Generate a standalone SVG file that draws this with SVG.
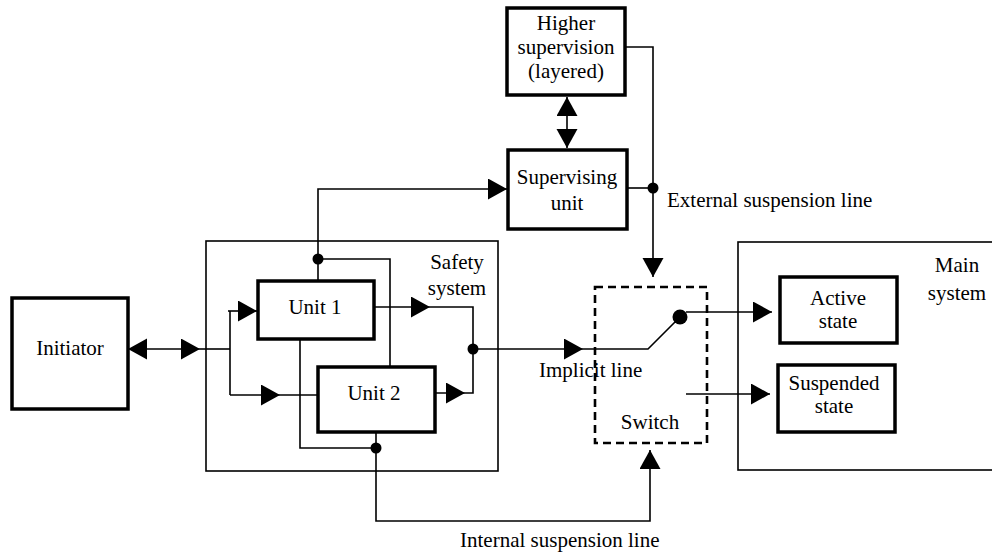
<svg xmlns="http://www.w3.org/2000/svg" width="992" height="555" viewBox="0 0 992 555">
<style>
.box{fill:#fff;stroke:#000;stroke-width:3.5}
.frame{fill:none;stroke:#000;stroke-width:1.6}
.dash{fill:none;stroke:#000;stroke-width:2.6;stroke-dasharray:8 5}
.ln{fill:none;stroke:#000;stroke-width:1.6}
.a{marker-end:url(#ah)}
.aa{marker-start:url(#ah);marker-end:url(#ah)}
.dot{fill:#000}
text{font-family:"Liberation Serif","Times New Roman",serif;font-size:21px;fill:#000}
.c{text-anchor:middle}
</style>
<defs>
<marker id="ah" markerUnits="userSpaceOnUse" markerWidth="20" markerHeight="22" refX="19" refY="10.5" orient="auto-start-reverse" viewBox="0 0 20 22">
<path d="M0,0 L19,10.5 L0,21 z" fill="#000"/>
</marker>
</defs>
<rect width="992" height="555" fill="#fff"/>

<g id="safety-system">
<rect class="frame" x="206" y="241" width="292" height="230"/>
<text class="c" x="457" y="269">Safety</text>
<text class="c" x="457" y="295">system</text>
</g>
<g id="main-system">
<rect class="frame" x="738" y="242" width="262" height="228"/>
<text class="c" x="957" y="272">Main</text>
<text class="c" x="957" y="300">system</text>
</g>

<g id="connectors">
<path class="ln aa" d="M128,349 H200"/>
<path class="ln" d="M200,349 H230"/>
<path class="ln" d="M230,311 V395"/>
<path class="ln a" d="M228,311 H257"/>
<path class="ln a" d="M230,395 H280"/>
<path class="ln" d="M280,395 H318"/>
<path class="ln a" d="M318,281 V189 H507"/>
<path class="ln" d="M318,259 H390 V367"/>
<path class="ln" d="M300,339 V448 H376"/>
<path class="ln a" d="M376,432 V521 H650 V450"/>
<path class="ln a" d="M372,307 H430"/>
<path class="ln" d="M430,307 H473 V393 H465"/>
<path class="ln a" d="M432,393 H465"/>
<path class="ln a" d="M473,349 H583"/>
<path class="ln" d="M583,349 H648 L680,317"/>
<path class="ln a" d="M686,312 H772"/>
<path class="ln a" d="M686,394 H770"/>
<path class="ln a" d="M625,47 H653 V277"/>
<path class="ln" d="M627,188 H653"/>
<path class="ln aa" d="M567,97 V148"/>
<circle class="dot" cx="318" cy="259" r="5.5"/>
<circle class="dot" cx="376" cy="448" r="5.5"/>
<circle class="dot" cx="473" cy="349" r="5.5"/>
<circle class="dot" cx="653" cy="188" r="5.5"/>
<circle class="dot" cx="680" cy="317" r="7.5"/>
</g>

<g id="higher-supervision">
<rect class="box" x="507" y="8" width="118" height="87"/>
<text class="c" x="566" y="30">Higher</text>
<text class="c" x="566" y="54">supervision</text>
<text class="c" x="566" y="78">(layered)</text>
</g>
<g id="supervising-unit">
<rect class="box" x="508" y="150" width="119" height="79"/>
<text class="c" x="567" y="184">Supervising</text>
<text class="c" x="567" y="210">unit</text>
</g>
<g id="initiator">
<rect class="box" x="12" y="298" width="116" height="111"/>
<text class="c" x="70" y="355">Initiator</text>
</g>
<g id="unit1">
<rect class="box" x="258" y="281" width="116" height="58"/>
<text class="c" x="315" y="314">Unit 1</text>
</g>
<g id="unit2">
<rect class="box" x="318" y="367" width="117" height="65"/>
<text class="c" x="374" y="400">Unit 2</text>
</g>
<g id="switch">
<rect class="dash" x="595" y="287" width="112" height="156"/>
<text class="c" x="650" y="429">Switch</text>
</g>
<g id="active-state">
<rect class="box" x="780" y="277" width="117" height="66"/>
<text class="c" x="838" y="305">Active</text>
<text class="c" x="838" y="328">state</text>
</g>
<g id="suspended-state">
<rect class="box" x="778" y="365" width="117" height="67"/>
<text class="c" x="834" y="390">Suspended</text>
<text class="c" x="834" y="413">state</text>
</g>

<g id="labels">
<text x="539" y="377">Implicit line</text>
<text x="667" y="207">External suspension line</text>
<text x="460" y="547">Internal suspension line</text>
</g>
</svg>
